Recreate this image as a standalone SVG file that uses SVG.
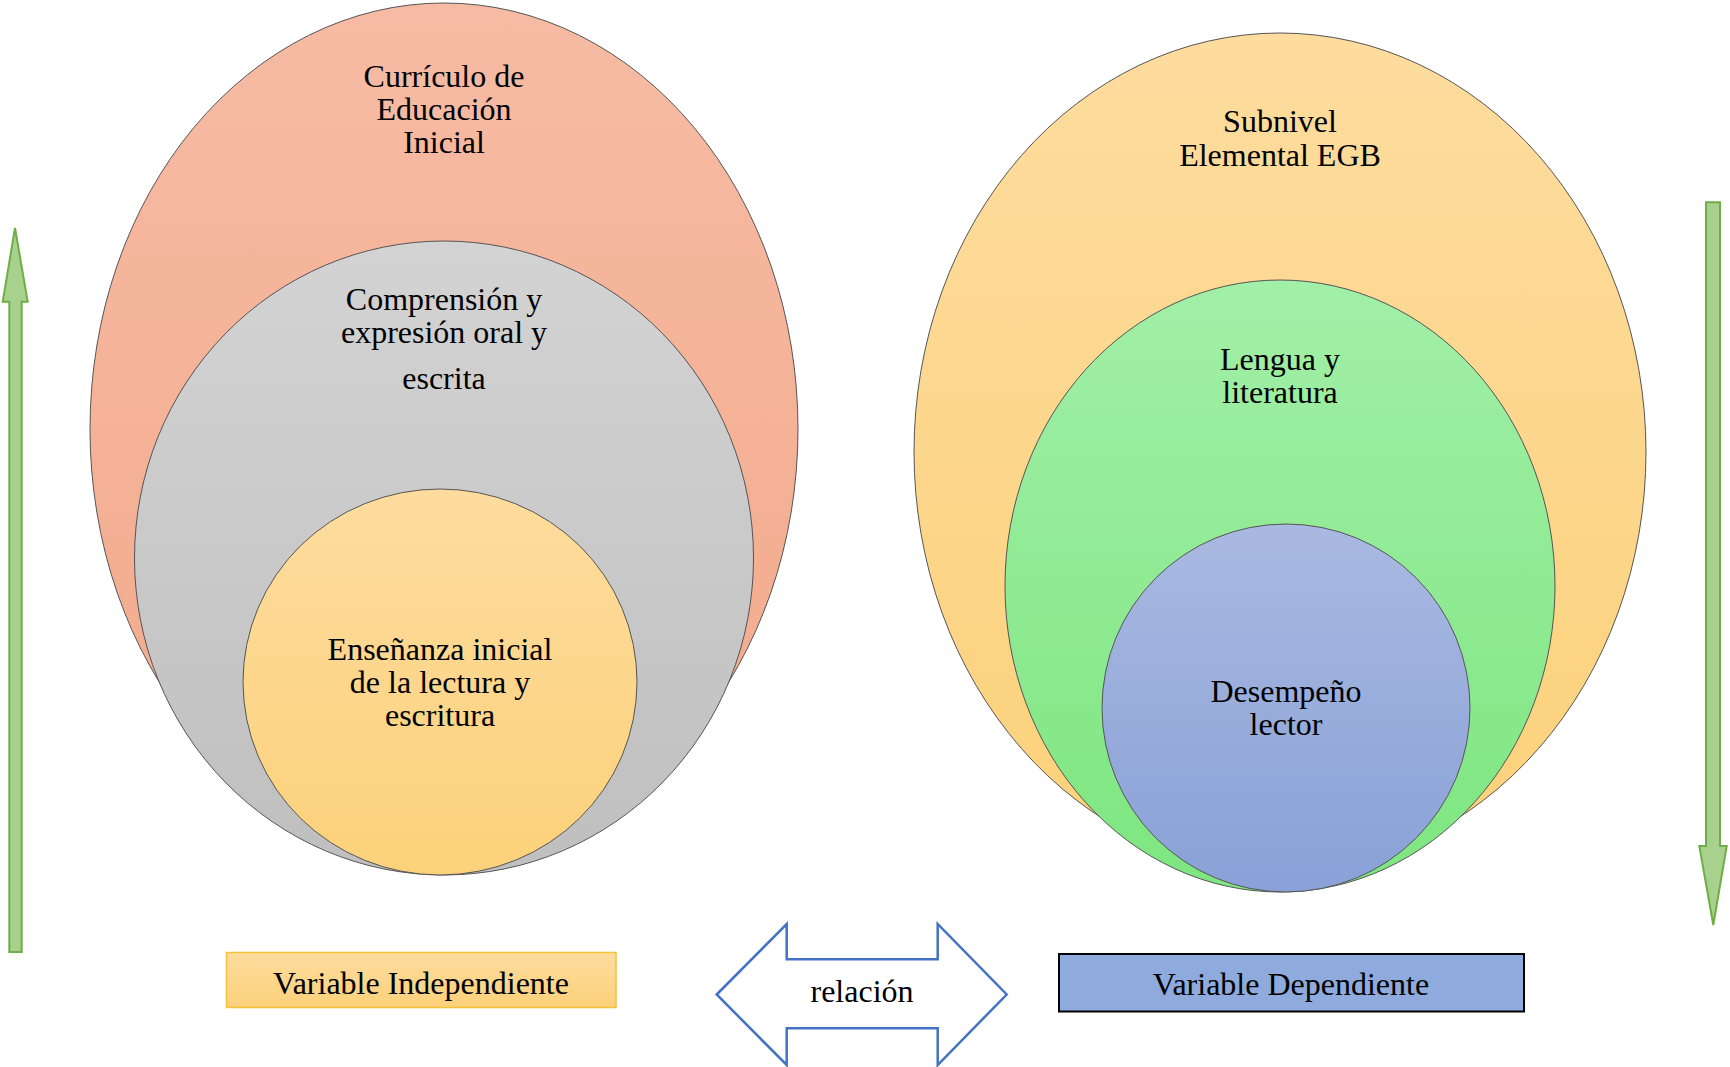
<svg xmlns="http://www.w3.org/2000/svg" width="1730" height="1067" viewBox="0 0 1730 1067">
<style>
.t{font-family:"Liberation Serif","Times New Roman",serif;font-size:32px;fill:#000;text-anchor:middle}
.e{stroke:#555;stroke-width:1}
.g{fill:#A9D18E;stroke:#70AD47;stroke-width:2}
</style>
<defs>
<linearGradient id="gPink" x1="0" y1="0" x2="0" y2="1"><stop offset="0" stop-color="#F6BBA4"/><stop offset="1" stop-color="#F3A98A"/></linearGradient>
<linearGradient id="gGray" x1="0" y1="0" x2="0" y2="1"><stop offset="0" stop-color="#D3D3D3"/><stop offset="1" stop-color="#BFBFBF"/></linearGradient>
<linearGradient id="gYel" x1="0" y1="0" x2="0" y2="1"><stop offset="0" stop-color="#FDDC9E"/><stop offset="1" stop-color="#FCD17A"/></linearGradient>
<linearGradient id="gGreen" x1="0" y1="0" x2="0" y2="1"><stop offset="0" stop-color="#A2EFA8"/><stop offset="1" stop-color="#7DE67F"/></linearGradient>
<linearGradient id="gBlue" x1="0" y1="0" x2="0" y2="1"><stop offset="0" stop-color="#A9B9E1"/><stop offset="1" stop-color="#89A1D7"/></linearGradient>
<linearGradient id="gBox" x1="0" y1="0" x2="0" y2="1"><stop offset="0" stop-color="#FDDC9E"/><stop offset="1" stop-color="#FCD17A"/></linearGradient>
</defs>

<g id="curriculo">
<ellipse class="e" cx="444" cy="429" rx="354" ry="426" fill="url(#gPink)"/>
<text class="t" x="444" y="87">Currículo de</text>
<text class="t" x="444" y="120">Educación</text>
<text class="t" x="444" y="153">Inicial</text>
</g>
<g id="comprension">
<ellipse class="e" cx="444" cy="558" rx="309.5" ry="317" fill="url(#gGray)"/>
<text class="t" x="444" y="310">Comprensión y</text>
<text class="t" x="444" y="343">expresión oral y</text>
<text class="t" x="444" y="389">escrita</text>
</g>
<g id="ensenanza">
<ellipse class="e" cx="440" cy="682" rx="197" ry="193" fill="url(#gYel)"/>
<text class="t" x="440" y="660">Enseñanza inicial</text>
<text class="t" x="440" y="693">de la lectura y</text>
<text class="t" x="440" y="726">escritura</text>
</g>

<g id="subnivel">
<ellipse class="e" cx="1280" cy="452" rx="366" ry="419" fill="url(#gYel)"/>
<text class="t" x="1280" y="132">Subnivel</text>
<text class="t" x="1280" y="166">Elemental EGB</text>
</g>
<g id="lengua">
<ellipse class="e" cx="1280" cy="586" rx="275" ry="306" fill="url(#gGreen)"/>
<text class="t" x="1280" y="370">Lengua y</text>
<text class="t" x="1280" y="403">literatura</text>
</g>
<g id="desempeno">
<ellipse class="e" cx="1286" cy="708" rx="184" ry="184" fill="url(#gBlue)"/>
<text class="t" x="1286" y="702">Desempeño</text>
<text class="t" x="1286" y="735">lector</text>
</g>

<g id="var-independiente">
<rect x="226.5" y="952.5" width="389.5" height="55" fill="url(#gBox)" stroke="#F7C23A" stroke-width="1.5"/>
<text class="t" x="421" y="994">Variable Independiente</text>
</g>
<g id="var-dependiente">
<rect x="1059" y="954" width="465" height="57.5" fill="#8FAADC" stroke="#000" stroke-width="2"/>
<text class="t" x="1291" y="995">Variable Dependiente</text>
</g>

<g id="connectors">
<polygon class="g" points="15,228 27.7,301.7 21.7,301.7 21.7,952 9.3,952 9.3,301.7 2.7,301.7"/>
<polygon class="g" points="1706,202.3 1720,202.3 1720,846 1726.7,846 1713.3,925 1699.3,846 1706,846"/>
<g id="relacion">
<polygon points="716.7,994.5 786.7,924 786.7,959.3 937.7,959.3 937.7,924 1006.7,994.5 937.7,1065 937.7,1028.3 786.7,1028.3 786.7,1065" fill="#fff" stroke="#4472C4" stroke-width="2.5" stroke-linejoin="miter"/>
<text class="t" x="862" y="1002">relación</text>
</g>
</g>
</svg>
